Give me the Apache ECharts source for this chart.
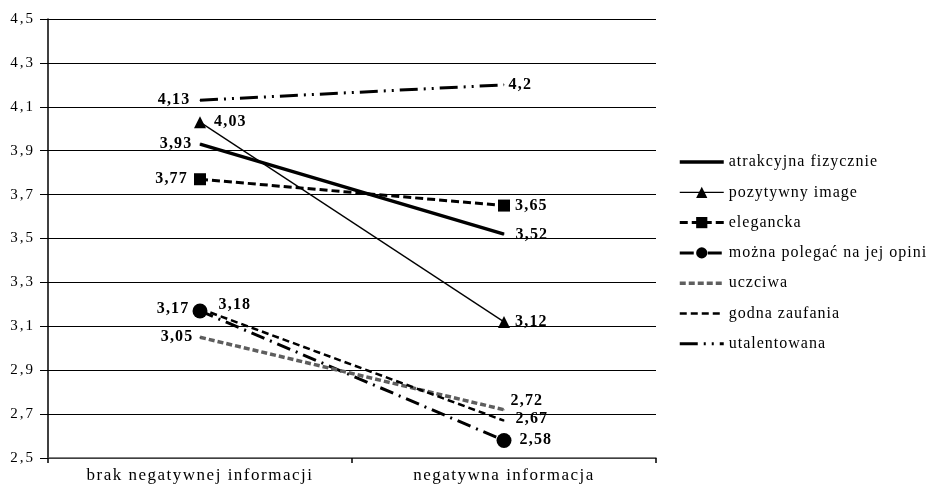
<!DOCTYPE html>
<html><head><meta charset="utf-8">
<script src="https://cdn.jsdelivr.net/npm/echarts@6/dist/echarts.min.js"></script>
<style>
html,body{margin:0;padding:0;background:#fff}
#c{width:928px;height:491px}
</style>
</head><body><div id="c"></div>
<script>
var categories = ['brak negatywnej informacji', 'negatywna informacja'];
var seriesNames = ['atrakcyjna fizycznie','pozytywny image','elegancka','można polegać na jej opini','uczciwa','godna zaufania','utalentowana'];
var atrakcyjna = [3.93, 3.52];
var pozytywny = [4.03, 3.12];
var elegancka = [3.77, 3.65];
var moznaPolegac = [3.17, 2.58];
var uczciwa = [3.05, 2.72];
var godnaZaufania = [3.18, 2.67];
var utalentowana = [4.13, 4.2];
var yTicks = ['2,5','2,7','2,9','3,1','3,3','3,5','3,7','3,9','4,1','4,3','4,5'];

// wide letter spacing as in the source image (text is still drawn by ECharts)
(function(){
  var P = CanvasRenderingContext2D.prototype, orig = P.fillText;
  P.fillText = function(t, x, y, m){
    var f = this.font || '', ls = '0px';
    if (/bold/.test(f)) ls = '1.2px';
    else if (/\b15px/.test(f)) ls = '2px';
    else if (/\b16px/.test(f)) ls = '1px';
    else if (/\b17px/.test(f)) ls = '1.5px';
    var prev = this.letterSpacing;
    if (prev !== undefined) this.letterSpacing = ls;
    var r = orig.apply(this, arguments);
    if (prev !== undefined) this.letterSpacing = prev;
    return r;
  };
})();

var serif = '"Liberation Serif","Times New Roman",serif';
function fmt(v){ return v.toFixed(2).replace(/0$/,'').replace('.', ','); }
// label placement per point: [position, distance, offsetX, offsetY]
function items(vals, place){
  return vals.map(function(v,i){
    var p = place[i];
    return {value:v, label:{show:true, position:p[0], distance:p[1], offset:[p[2]||0,p[3]||0], formatter:fmt(v)}};
  });
}
var lbl = {show:true, color:'#000', fontFamily:serif, fontWeight:'bold', fontSize:16};

var series = [
 {name:seriesNames[0], data:items(atrakcyjna,[['left',7,0,0],['right',11,0,1]]), symbol:'circle', symbolSize:1, lineStyle:{width:3.5,color:'#000'}},
 {name:seriesNames[1], data:items(pozytywny,[['right',8,0,0],['right',5,0,0]]), symbol:'triangle', symbolSize:12, lineStyle:{width:1.3,color:'#000'}},
 {name:seriesNames[2], data:items(elegancka,[['left',6,0,0],['right',5,0,0]]), symbol:'rect', symbolSize:12, lineStyle:{width:3,color:'#000',type:[8,4]}},
 {name:seriesNames[3], data:items(moznaPolegac,[['left',3,0,-2],['right',8,0,-1]]), symbol:'circle', symbolSize:15, lineStyle:{width:3,color:'#000',type:[14,6,2,6]}},
 {name:seriesNames[4], data:items(uczciwa,[['left',6,0,0],['right',6,0,-9]]), symbol:'circle', symbolSize:1, lineStyle:{width:3.5,color:'#5e5e5e',type:[6,3]}},
 {name:seriesNames[5], data:items(godnaZaufania,[['right',18,0,-4],['right',11,0,-2]]), symbol:'circle', symbolSize:1, lineStyle:{width:2.5,color:'#000',type:[7,4]}},
 {name:seriesNames[6], data:items(utalentowana,[['left',9,0,0],['right',4,0,0]]), symbol:'circle', symbolSize:1, lineStyle:{width:3,color:'#000',type:[18,6,2,6,2,6]}}
];
var legendData = [];
series.forEach(function(s){
  s.type='line'; s.itemStyle={color:'#000'}; s.label=Object.assign({}, lbl);
  s.emphasis={disabled:true}; s.animation=false; s.silent=true;
  var li = {name:s.name, lineStyle:{width:s.lineStyle.width, type:s.lineStyle.type||'solid', color:s.lineStyle.color}};
  if (s.symbolSize===1) li.itemStyle={opacity:0};
  legendData.push(li);
});

var chart = echarts.init(document.getElementById('c'));
chart.setOption({
  animation:false,
  backgroundColor:'#fff',
  grid:{left:48,right:272,top:19,bottom:33,containLabel:false},
  legend:{orient:'vertical', left:673, top:149, itemWidth:44, itemHeight:14, itemGap:14.3, selectedMode:false,
    textStyle:{fontFamily:serif, fontSize:16, color:'#000'}, data:legendData},
  xAxis:{type:'category', data:categories, boundaryGap:true,
    axisLine:{lineStyle:{color:'#555',width:1.5}},
    axisTick:{show:true, length:5, lineStyle:{color:'#000',width:1.5}},
    axisLabel:{fontFamily:serif, fontSize:17, color:'#000', margin:9}},
  yAxis:{type:'value', min:2.5, max:4.5, interval:0.2,
    axisLine:{show:true, lineStyle:{color:'#000',width:1.5}},
    axisTick:{show:true, length:8, lineStyle:{color:'#000'}},
    splitLine:{lineStyle:{color:'#000',width:1}},
    axisLabel:{fontFamily:serif, fontSize:15, color:'#000', margin:13,
      formatter:function(v){ var i=Math.round((v-2.5)/0.2); return yTicks[i]!==undefined?yTicks[i]:''; }}},
  series:series
});
</script></body></html>
